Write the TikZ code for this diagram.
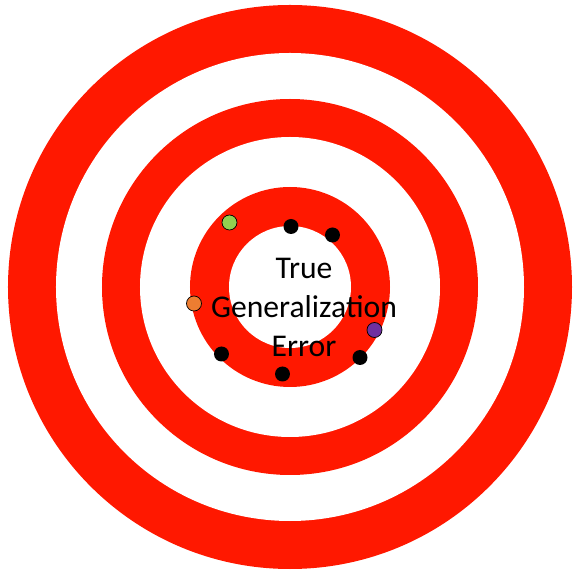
\documentclass[tikz,border=0pt]{standalone}
\usepackage{fontspec}
\setmainfont{Carlito}
\usepackage{xcolor}
\usepackage{tikz}
\definecolor{targetred}{RGB}{255, 24, 0}
\definecolor{shotgreen}{RGB}{146, 208, 80}
\definecolor{shotorange}{RGB}{237, 125, 49}
\definecolor{shotpurple}{RGB}{112, 48, 160}
\tikzset{
    shot/.style={fill=black},
    markedshot/.style={draw=black, line width=0.4pt}
}

\begin{document}
\begin{tikzpicture}
    \useasboundingbox[fill=white] (-5.80,-5.84) rectangle (5.92,5.74);

    % Target rings
    \fill[targetred] (0,0) circle (5.64cm);
    \fill[white] (0,0) circle (4.68cm);
    \fill[targetred] (0,0) circle (3.76cm);
    \fill[white] (0,0) circle (3.00cm);
    \fill[targetred] (0,0) circle (2.00cm);
    \fill[white] (0,0) circle (1.22cm);

    % Centre label
    \node[align=center, inner sep=0pt, font=\fontsize{18}{22.2}\selectfont] (trueerr) at (0.28,-0.40)
        {True\\Generalization\\Error};

    % Estimates around the centre
    \fill[shot] (0.02, 1.21) circle (0.15cm);
    \fill[shot] (0.85, 1.04) circle (0.15cm);
    \fill[shot] (-1.37, -1.34) circle (0.15cm);
    \fill[shot] (-0.15, -1.74) circle (0.15cm);
    \fill[shot] (1.40, -1.41) circle (0.15cm);
    \filldraw[markedshot, fill=shotgreen] (-1.21, 1.29) circle (0.15cm);
    \filldraw[markedshot, fill=shotorange] (-1.92, -0.33) circle (0.15cm);
    \filldraw[markedshot, fill=shotpurple] (1.69, -0.86) circle (0.15cm);
\end{tikzpicture}
\end{document}
